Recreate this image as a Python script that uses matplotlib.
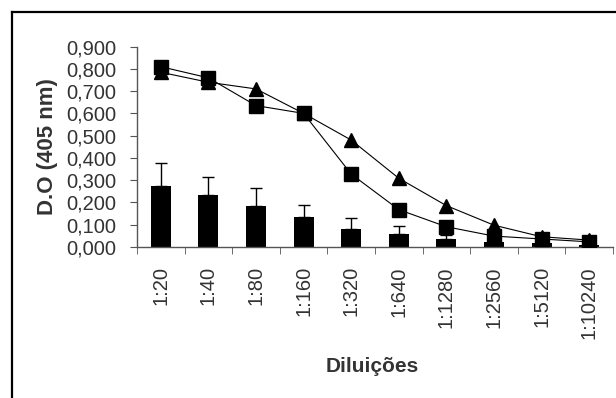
import numpy as np
import matplotlib.pyplot as plt
from matplotlib.lines import Line2D

plt.rcParams['font.family'] = ['Liberation Sans', 'DejaVu Sans']

# dados
diluicoes = ['1:20', '1:40', '1:80', '1:160', '1:320', '1:640', '1:1280', '1:2560', '1:5120', '1:10240']
barras = [0.272, 0.232, 0.185, 0.132, 0.082, 0.057, 0.033, 0.022, 0.015, 0.010]
barras_erro = [0.103, 0.082, 0.081, 0.058, 0.048, 0.038, 0.020, 0.015, 0.010, 0.008]
triangulos = [0.785, 0.740, 0.710, 0.600, 0.480, 0.308, 0.185, 0.097, 0.045, 0.030]
quadrados = [0.810, 0.760, 0.635, 0.600, 0.327, 0.167, 0.090, 0.048, 0.035, 0.022]
yticks = [0.0, 0.1, 0.2, 0.3, 0.4, 0.5, 0.6, 0.7, 0.8, 0.9]

x = np.arange(len(diluicoes))
cinza = '#333333'

fig = plt.figure(figsize=(6.16, 3.98), dpi=100)
ax = fig.add_axes([0.2224, 0.380, 0.7727, 0.5027])

ax.bar(x, barras, width=0.42, color='black', zorder=2)
ax.errorbar(x, barras, yerr=[np.zeros(len(x)), barras_erro], fmt='none',
            ecolor='black', elinewidth=1, capsize=4, capthick=1, zorder=1)

ax.plot(x, triangulos, color='black', lw=0.8, marker='^', markersize=9.5, zorder=3)
ax.plot(x, quadrados, color='black', lw=0.8, marker='s', markersize=9.5, zorder=4)

ax.set_xlim(-0.5, len(x) - 0.5)
ax.set_ylim(0, 0.9)
ax.set_yticks(yticks)
ax.set_yticklabels([f'{v:.3f}'.replace('.', ',') for v in yticks], fontsize=14.5, color=cinza)

ax.set_xticks(x)
ax.set_xticklabels(diluicoes, rotation=90, fontsize=14.5, color=cinza)
ax.tick_params(axis='x', length=0, pad=14)
ax.set_xticks(np.arange(len(x) + 1) - 0.5, minor=True)
ax.tick_params(axis='x', which='minor', length=5, color='#555555', direction='out')
ax.tick_params(axis='y', length=5, color='#555555', direction='out', pad=10)

for s in ['top', 'right']:
    ax.spines[s].set_visible(False)
for s in ['left', 'bottom']:
    ax.spines[s].set_color('#555555')
    ax.spines[s].set_linewidth(1)

ax.set_ylabel('D.O (405 nm)', fontsize=16, fontweight='bold', color=cinza, labelpad=6)
fig.text(0.605, 0.078, 'Diluições', fontsize=15, fontweight='bold', color=cinza,
         ha='center', va='center')

# moldura
fig.add_artist(Line2D([0.0195, 0.0195], [0, 0.97], color='black', lw=1.6, transform=fig.transFigure))
fig.add_artist(Line2D([0.0195, 1.0], [0.97, 0.97], color='black', lw=1.6, transform=fig.transFigure))

fig.savefig('out.png', dpi=100)
